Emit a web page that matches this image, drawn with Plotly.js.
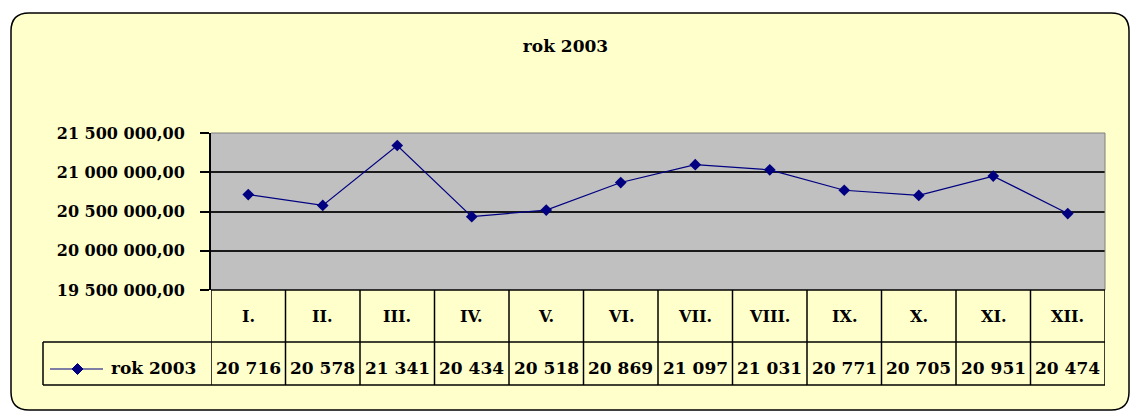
<!DOCTYPE html>
<html><head><meta charset="utf-8">
<script src="https://cdn.plot.ly/plotly-3.0.1.min.js"></script>
<style>html,body{margin:0;padding:0;background:#fff;}</style>
</head><body><div id="chart" style="width:1131px;height:412px;"></div>
<script>
const months = ['I.','II.','III.','IV.','V.','VI.','VII.','VIII.','IX.','X.','XI.','XII.'];
const values = [20716000, 20578000, 21341000, 20434000, 20518000, 20869000, 21097000, 21031000, 20771000, 20705000, 20951000, 20474000];
const seriesName = 'rok 2003';
const chartTitle = 'rok 2003';
const yTicks = [19500000, 20000000, 20500000, 21000000, 21500000];

const W = 1131, H = 412, L = 211, R = 1105, T = 133, B = 290;
const px = x => (x - L) / (R - L);
const py = y => (B - y) / (B - T);
const FONT = 'DejaVu Serif, Liberation Serif, serif';

function fmtThousands(v) {
  return String(Math.round(v / 1000)).replace(/\B(?=(\d{3})+(?!\d))/g, ' ');
}

const shapes = [];
// outer rounded chart box
(function () {
  const x0 = 11, y0 = 13, x1 = 1129, y1 = 410, r = 18;
  const P = (x, y) => px(x) + ',' + py(y);
  shapes.push({
    type: 'path', xref: 'paper', yref: 'paper', layer: 'below',
    path: 'M' + P(x0 + r, y0) + ' L' + P(x1 - r, y0) + ' Q' + P(x1, y0) + ' ' + P(x1, y0 + r) +
      ' L' + P(x1, y1 - r) + ' Q' + P(x1, y1) + ' ' + P(x1 - r, y1) +
      ' L' + P(x0 + r, y1) + ' Q' + P(x0, y1) + ' ' + P(x0, y1 - r) +
      ' L' + P(x0, y0 + r) + ' Q' + P(x0, y0) + ' ' + P(x0 + r, y0) + ' Z',
    fillcolor: '#FFFFCC', line: {color: '#000000', width: 1.5}
  });
})();
// plot area background (gray) with top/right gray border
shapes.push({type: 'rect', xref: 'paper', yref: 'paper', layer: 'below', x0: 0, x1: 1, y0: 0, y1: 1, fillcolor: '#C0C0C0', line: {width: 0}});
shapes.push({type: 'line', xref: 'paper', yref: 'paper', x0: 0, x1: 1, y0: 1, y1: 1, line: {color: '#808080', width: 1}});
shapes.push({type: 'line', xref: 'paper', yref: 'paper', x0: 1, x1: 1, y0: 0, y1: 1, line: {color: '#808080', width: 1}});

// data table
const rowMid = 342, rowBot = 385, legLeft = 43;
const lineStyle = {color: '#000000', width: 1.5};
shapes.push({type: 'line', xref: 'paper', yref: 'paper', x0: 0, x1: 1, y0: 0, y1: 0, line: lineStyle});
shapes.push({type: 'line', xref: 'paper', yref: 'paper', x0: px(legLeft), x1: 1, y0: py(rowMid), y1: py(rowMid), line: lineStyle});
shapes.push({type: 'line', xref: 'paper', yref: 'paper', x0: px(legLeft), x1: 1, y0: py(rowBot), y1: py(rowBot), line: lineStyle});
shapes.push({type: 'line', xref: 'paper', yref: 'paper', x0: px(legLeft), x1: px(legLeft), y0: py(rowMid), y1: py(rowBot), line: lineStyle});
for (let i = 0; i <= months.length; i++) {
  shapes.push({type: 'line', xref: 'x', yref: 'paper', x0: i - 0.5, x1: i - 0.5, y0: 0, y1: py(rowBot), line: lineStyle});
}
// legend key in table
const legY = 369, legX0 = 50, legX1 = 103, legXm = 77.5, d = 5.5;
shapes.push({type: 'line', xref: 'paper', yref: 'paper', x0: px(legX0), x1: px(legX1), y0: py(legY), y1: py(legY), line: {color: '#000080', width: 1.2}});
shapes.push({
  type: 'path', xref: 'paper', yref: 'paper',
  path: 'M' + px(legXm - d) + ',' + py(legY) + ' L' + px(legXm) + ',' + py(legY - d) + ' L' + px(legXm + d) + ',' + py(legY) + ' L' + px(legXm) + ',' + py(legY + d) + ' Z',
  fillcolor: '#000080', line: {color: '#000080', width: 1}
});

const annotations = [];
const catFont = {family: FONT, size: 16, color: '#000000', weight: 'bold'};
const valFont = {family: FONT, size: 17, color: '#000000', weight: 'bold'};
months.forEach((m, i) => {
  annotations.push({x: m, xref: 'x', y: py(316), yref: 'paper', text: m, showarrow: false, xanchor: 'center', yanchor: 'middle', font: catFont});
  annotations.push({x: m, xref: 'x', y: py(368), yref: 'paper', text: fmtThousands(values[i]), showarrow: false, xanchor: 'center', yanchor: 'middle', font: valFont});
});
annotations.push({x: px(153), xref: 'paper', y: py(368), yref: 'paper', text: seriesName, showarrow: false, xanchor: 'center', yanchor: 'middle', font: valFont});

const trace = {
  type: 'scatter', mode: 'lines+markers', name: seriesName,
  x: months, y: values,
  line: {color: '#000080', width: 1.2},
  marker: {symbol: 'diamond', size: 9, color: '#000080'},
  cliponaxis: false
};

const layout = {
  width: W, height: H,
  margin: {l: L, r: W - R, t: T, b: H - B, pad: 0},
  paper_bgcolor: '#FFFFFF',
  plot_bgcolor: '#C0C0C0',
  showlegend: false,
  separators: ', ',
  title: {text: chartTitle, x: 0.5, xanchor: 'center', y: 1 - 46 / H, yanchor: 'middle', font: {family: FONT, size: 17, color: '#000000', weight: 'bold'}},
  xaxis: {type: 'category', range: [-0.5, months.length - 0.5], showticklabels: false, showgrid: false, zeroline: false, showline: false, ticks: '', fixedrange: true},
  yaxis: {
    range: [yTicks[0], yTicks[yTicks.length - 1]], tickmode: 'array', tickvals: yTicks, tickformat: ',.2f',
    showgrid: true, gridcolor: '#1a1a1a', gridwidth: 2, zeroline: false,
    showline: true, linecolor: '#000000', linewidth: 2,
    ticks: 'outside', ticklen: 9, tickcolor: '#000000', tickwidth: 2, ticklabelstandoff: 12,
    tickfont: {family: FONT, size: 16, color: '#000000', weight: 'bold'}, fixedrange: true
  },
  shapes: shapes,
  annotations: annotations
};

Plotly.newPlot('chart', [trace], layout, {displayModeBar: false, staticPlot: true});
</script>
</body></html>
